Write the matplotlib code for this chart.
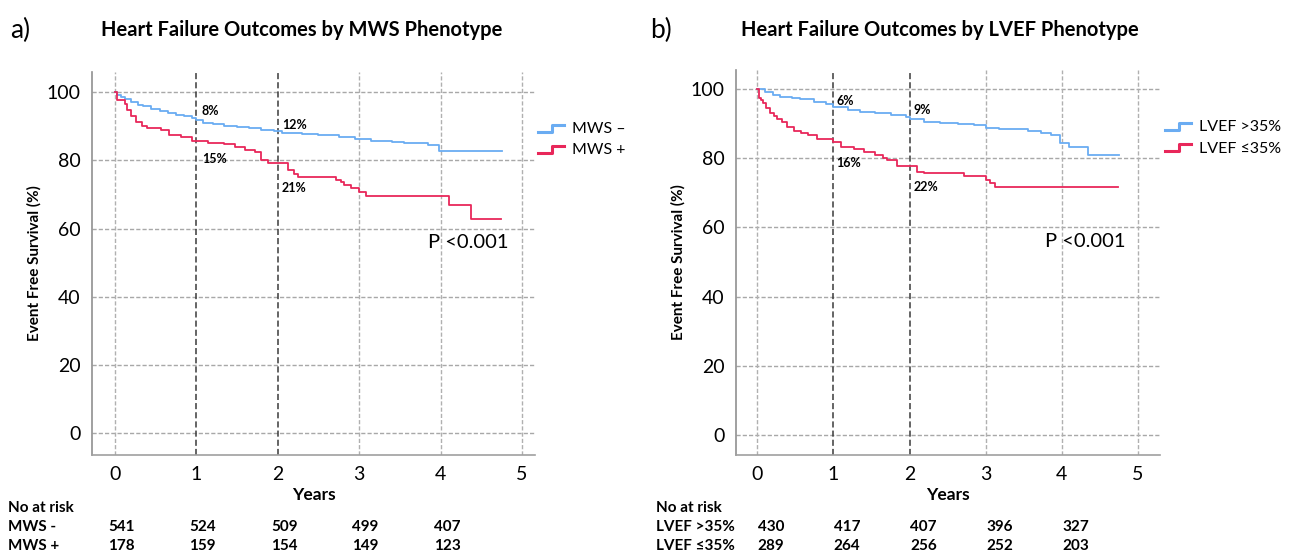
import numpy as np
import matplotlib
matplotlib.use("Agg")
import matplotlib.pyplot as plt
from matplotlib.legend_handler import HandlerBase
from matplotlib.lines import Line2D
from matplotlib.transforms import blended_transform_factory

plt.rcParams['font.family'] = ['Lato', 'DejaVu Sans']

# ---- data ----
years = [0, 1, 2, 3, 4, 5]
yticks = [0, 20, 40, 60, 80, 100]

# panel a) MWS phenotype
mws_neg_t = [0, 0.03, 0.08, 0.12, 0.2, 0.28, 0.35, 0.45, 0.55, 0.65, 0.75, 0.85, 0.95, 1.0,
             1.08, 1.2, 1.34, 1.5, 1.65, 1.8, 1.95, 2.05, 2.3, 2.5, 2.75, 2.95, 3.15, 3.4,
             3.55, 3.84, 3.98, 4.76]
mws_neg_s = [100, 99.3, 98.6, 97.9, 97.2, 96.2, 95.8, 95.0, 94.4, 93.8, 93.4, 92.9, 92.5, 91.8,
             91.0, 90.6, 90.2, 89.8, 89.4, 89.0, 88.5, 88.0, 87.6, 87.3, 86.9, 86.4, 85.8, 85.4,
             85.0, 84.4, 82.8, 82.8]
mws_pos_t = [0, 0.03, 0.12, 0.15, 0.2, 0.26, 0.33, 0.4, 0.57, 0.67, 0.81, 0.95, 1.14, 1.34,
             1.47, 1.6, 1.72, 1.8, 1.88, 2.13, 2.2, 2.25, 2.72, 2.78, 2.82, 2.9, 3.0, 3.09,
             4.1, 4.37, 4.74]
mws_pos_s = [100, 97.8, 96.5, 94.7, 93.0, 91.3, 90.2, 89.5, 89.0, 87.4, 86.7, 85.7, 85.1, 84.9,
             83.9, 82.9, 82.5, 80.1, 79.1, 77.1, 76.0, 75.0, 74.3, 73.7, 72.8, 71.8, 70.8, 69.5,
             66.9, 62.8, 62.8]
mws_risk_neg = [541, 524, 509, 499, 407]
mws_risk_pos = [178, 159, 154, 149, 123]
mws_labels = ['8%', '12%', '15%', '21%']

# panel b) LVEF phenotype
lvef_hi_t = [0, 0.1, 0.21, 0.3, 0.45, 0.56, 0.75, 0.9, 1.0, 1.19, 1.35, 1.54, 1.75, 1.95, 2.0,
             2.19, 2.4, 2.63, 2.85, 3.0, 3.18, 3.55, 3.73, 3.86, 3.97, 4.1, 4.34, 4.75]
lvef_hi_s = [100, 99.2, 98.3, 97.6, 97.3, 97.0, 96.3, 95.7, 94.9, 93.9, 93.4, 93.0, 92.4, 91.8,
             91.2, 90.5, 90.2, 89.9, 89.6, 88.8, 88.3, 87.9, 87.3, 86.7, 84.5, 83.1, 80.9, 80.9]
lvef_lo_t = [0, 0.02, 0.05, 0.08, 0.12, 0.17, 0.22, 0.26, 0.32, 0.39, 0.48, 0.57, 0.66, 0.79,
             1.0, 1.1, 1.27, 1.4, 1.54, 1.65, 1.71, 1.84, 2.1, 2.19, 2.72, 2.85, 3.0, 3.06,
             3.12, 4.74]
lvef_lo_s = [100, 97.5, 96.8, 96.0, 94.5, 93.0, 92.2, 91.2, 90.5, 89.1, 87.9, 87.4, 86.7, 85.5,
             84.8, 83.3, 82.6, 81.8, 80.9, 80.2, 79.5, 77.7, 76.1, 75.6, 75.0, 74.8, 73.7, 72.8,
             71.8, 71.8]
lvef_risk_hi = [430, 417, 407, 396, 327]
lvef_risk_lo = [289, 264, 256, 252, 203]
lvef_labels = ['6%', '9%', '16%', '22%']

BLUE = '#6aacf2'
RED = '#e8275a'


class StepHandler(HandlerBase):
    def create_artists(self, legend, orig, xd, yd, w, h, fontsize, trans):
        xs = [xd, xd + w * 0.55, xd + w * 0.55, xd + w]
        ys = [yd + h * 0.1, yd + h * 0.1, yd + h * 0.75, yd + h * 0.75]
        ln = Line2D(xs, ys, color=orig.get_color(), lw=2.2, transform=trans)
        return [ln]


def km_panel(ax, t1, s1, t2, s2, lab1, lab2, pct, pct_pos, p_x, xlim, ylim, leg_anchor):
    ax.set_xlim(*xlim)
    ax.set_ylim(*ylim)
    for y in yticks:
        ax.axhline(y, color='#a8a8a8', lw=1.0, ls=(0, (3, 1.5)), zorder=1)
    for x in years:
        if x in (1, 2):
            ax.axvline(x, color='#3a3a3a', lw=1.1, ls=(0, (4, 2)), zorder=1)
        else:
            ax.axvline(x, color='#b0b0b0', lw=1.0, ls=(0, (3, 1.5)), zorder=1)
    l1, = ax.step(t1, s1, where='post', color=BLUE, lw=1.3, label=lab1, zorder=3)
    l2, = ax.step(t2, s2, where='post', color=RED, lw=1.3, label=lab2, zorder=3)
    for txt, (x, y) in zip(pct, pct_pos):
        ax.text(x, y, txt, fontsize=9, fontweight='bold', va='center', ha='left', zorder=4)
    ax.text(p_x, 56, 'P <0.001', fontsize=14.5, va='center', ha='left')
    ax.set_xticks(years)
    ax.set_yticks(yticks)
    ax.tick_params(labelsize=14, length=0, pad=8)
    for sp in ('top', 'right'):
        ax.spines[sp].set_visible(False)
    ax.spines['left'].set_color('#909090')
    ax.spines['bottom'].set_color('#a0a0a0')
    ax.spines['left'].set_linewidth(1.2)
    ax.spines['bottom'].set_linewidth(1.2)
    ax.set_xlabel('Years', fontsize=12.5, fontweight='bold', labelpad=3)
    ax.set_ylabel('Event Free Survival (%)', fontsize=11, fontweight='bold', labelpad=4)
    ax.legend(handles=[l1, l2], loc='upper left', bbox_to_anchor=leg_anchor, frameon=False,
              fontsize=11.5, handler_map={Line2D: StepHandler()}, handlelength=1.6,
              handletextpad=0.5, labelspacing=0.45, borderaxespad=0, borderpad=0)


fig = plt.figure(figsize=(12.9, 5.6), dpi=100)
axa = fig.add_axes([92 / 1290, 105 / 560, 443 / 1290, 383 / 560])
axb = fig.add_axes([736 / 1290, 105 / 560, 424 / 1290, 385 / 560])

km_panel(axa, mws_neg_t, mws_neg_s, mws_pos_t, mws_pos_s, 'MWS \u2013', 'MWS +',
         mws_labels, [(1.07, 94.5), (2.06, 90.5), (1.07, 80.5), (2.05, 71.8)], 3.85,
         (-0.28, 5.16), (-6.4, 105.9), (1.007, 0.87))
km_panel(axb, lvef_hi_t, lvef_hi_s, lvef_lo_t, lvef_lo_s, 'LVEF >35%', 'LVEF \u226435%',
         lvef_labels, [(1.04, 96.5), (2.05, 93.8), (1.04, 78.5), (2.05, 71.8)], 3.78,
         (-0.28, 5.29), (-5.8, 105.5), (1.012, 0.87))

fig.text(10 / 1290, 1 - 30 / 560, 'a)', fontsize=19, va='center', ha='left')
fig.text(650 / 1290, 1 - 30 / 560, 'b)', fontsize=19, va='center', ha='left')
fig.text(302 / 1290, 1 - 30 / 560, 'Heart Failure Outcomes by MWS Phenotype',
         fontsize=14.5, fontweight='bold', va='center', ha='center')
fig.text(940 / 1290, 1 - 30 / 560, 'Heart Failure Outcomes by LVEF Phenotype',
         fontsize=14.5, fontweight='bold', va='center', ha='center')

# number at risk table
risk_rows = [(axa, ['MWS -', 'MWS +'], [mws_risk_neg, mws_risk_pos], 8, 0.08),
             (axb, ['LVEF >35%', 'LVEF \u226435%'], [lvef_risk_hi, lvef_risk_lo], 656, 0.18)]
for ax, names, rows, x0, off in risk_rows:
    tr = blended_transform_factory(ax.transData, fig.transFigure)
    fig.text(x0 / 1290, 1 - 508 / 560, 'No at risk', fontsize=11, fontweight='bold',
             va='center', ha='left')
    for i, (nm, vals) in enumerate(zip(names, rows)):
        yy = 1 - (527 + 18.5 * i) / 560
        fig.text(x0 / 1290, yy, nm, fontsize=11, fontweight='bold', va='center', ha='left')
        for x, v in zip(years, vals):
            ax.text(x + off, yy, str(v), transform=tr, fontsize=11, fontweight='bold',
                    va='center', ha='center')

fig.savefig('out.png', dpi=100)
